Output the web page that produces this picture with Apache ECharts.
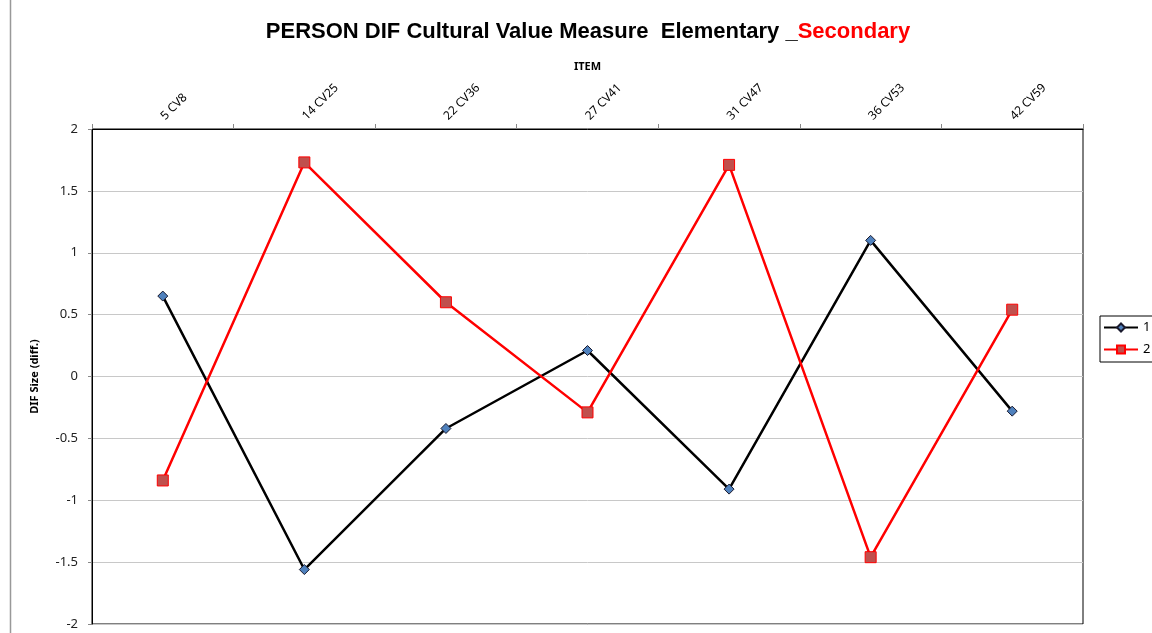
<!DOCTYPE html>
<html><head><meta charset="utf-8">
<script src="https://cdn.jsdelivr.net/npm/echarts@6/dist/echarts.min.js"></script>
<style>html,body{margin:0;padding:0;background:#fff}#c{width:1152px;height:633px}</style>
</head><body><div id="c"></div>
<script>
const categories = ['5 CV8','14 CV25','22 CV36','27 CV41','31 CV47','36 CV53','42 CV59'];
const series1 = [0.65, -1.56, -0.42, 0.21, -0.91, 1.10, -0.28];
const series2 = [-0.84, 1.73, 0.60, -0.29, 1.71, -1.46, 0.54];
const yTicks = [-2, -1.5, -1, -0.5, 0, 0.5, 1, 1.5, 2];

const chart = echarts.init(document.getElementById('c'));
chart.setOption({
  backgroundColor: '#fff',
  animation: false,
  title: {
    text: '{b|PERSON DIF Cultural Value Measure  Elementary _}{r|Secondary}',
    left: 583, top: 16, textAlign: 'center',
    textStyle: { rich: {
      b: { fontFamily: 'Liberation Sans', fontWeight: 'bold', fontSize: 22, color: '#000' },
      r: { fontFamily: 'Liberation Sans', fontWeight: 'bold', fontSize: 22, color: '#ff0000' }
    } }
  },
  graphic: [
    { type: 'line', shape: { x1: 10.5, y1: 0, x2: 10.5, y2: 633 }, style: { stroke: '#999', lineWidth: 1.5 } }
  ],
  legend: {
    orient: 'vertical', left: 1100, top: 316,
    borderColor: '#000', borderWidth: 1, padding: [5, 8, 6, 3], itemGap: 9,
    itemWidth: 34, itemHeight: 10,
    textStyle: { fontFamily: 'Noto Sans', fontSize: 13, color: '#000' },
    data: ['1', '2']
  },
  grid: { left: 92, right: 69, top: 129, bottom: 9, show: true, borderColor: '#000', borderWidth: 1 },
  xAxis: {
    type: 'category', position: 'top', data: categories, boundaryGap: true,
    name: 'ITEM', nameLocation: 'middle', nameGap: 57,
    nameTextStyle: { fontFamily: 'Noto Sans', fontWeight: 'bold', fontSize: 11, color: '#000' },
    axisLine: { show: true, onZero: false, lineStyle: { color: '#000' } },
    axisTick: { show: true, alignWithLabel: false, length: 5, lineStyle: { color: '#888' } },
    axisLabel: { rotate: -45, fontFamily: 'Noto Sans', fontSize: 12, color: '#000', margin: 11 },
    splitLine: { show: false }
  },
  yAxis: {
    type: 'value', min: -2, max: 2, interval: 0.5,
    name: 'DIF Size (diff.)', nameLocation: 'middle', nameGap: 52, nameRotate: 90,
    nameTextStyle: { fontFamily: 'Noto Sans', fontWeight: 'bold', fontSize: 11, color: '#000' },
    axisLine: { show: true, lineStyle: { color: '#000' } },
    axisTick: { show: true, length: 4, lineStyle: { color: '#888' } },
    axisLabel: { fontFamily: 'Noto Sans', fontSize: 13, color: '#222', margin: 14,
      formatter: v => yTicks.includes(v) ? String(v) : '' },
    splitLine: { show: true, lineStyle: { color: '#c8c8c8', width: 1 } }
  },
  series: [
    { name: '1', type: 'line', data: series1, symbol: 'diamond', symbolSize: 10,
      lineStyle: { color: '#000', width: 2.5 },
      itemStyle: { color: '#4f81bd', borderColor: '#1a1a2e', borderWidth: 1 } },
    { name: '2', type: 'line', data: series2, symbol: 'rect', symbolSize: 11,
      lineStyle: { color: '#ff0000', width: 2.5 },
      itemStyle: { color: '#c0504d', borderColor: '#ff0000', borderWidth: 1 } }
  ]
});
</script></body></html>
